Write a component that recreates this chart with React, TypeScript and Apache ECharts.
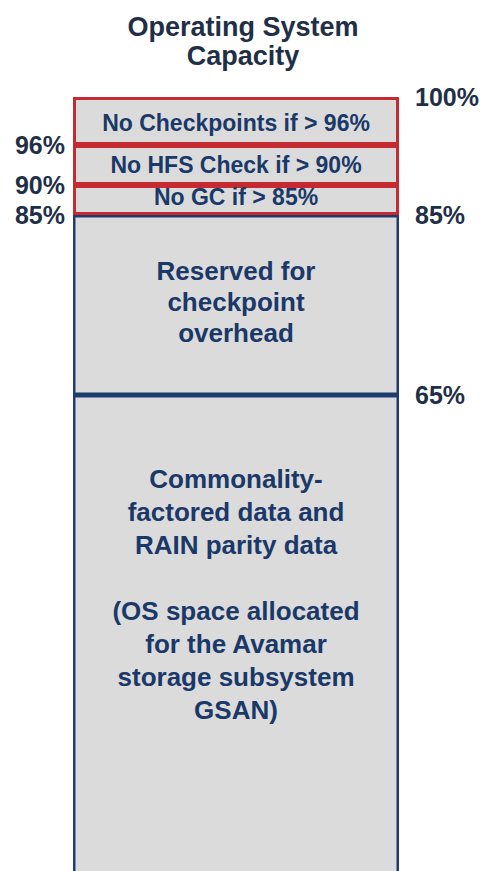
import React, { useEffect, useRef } from "react";
import * as echarts from "echarts";

// ---- data ----
const categories = ["OS capacity"];
const bandLabels = [
  "Commonality-\nfactored data and\nRAIN parity data\n\n(OS space allocated\nfor the Avamar\nstorage subsystem\nGSAN)",
  "Reserved for\ncheckpoint\noverhead",
  "No GC if > 85%",
  "No HFS Check if > 90%",
  "No Checkpoints if > 96%",
];
const bandFromPct = [0, 65, 85, 90, 96];
const bandToPct = [65, 85, 90, 96, 100];
// schematic band heights (the diagram is not drawn to scale)
const bandSchematic = [496, 180, 30, 40, 48];
const leftTickPct = [96, 90, 85];
const rightTickPct = [100, 85, 65];
const titleText = "Operating System\nCapacity";

export default function App() {
  const ref = useRef<HTMLDivElement>(null);
  useEffect(() => {
    if (!ref.current) return;
    const chart = echarts.init(ref.current, undefined, { renderer: "svg" });

    const cum: number[] = [];
    let acc = 0;
    bandSchematic.forEach((h) => {
      acc += h;
      cum.push(acc);
    });
    const pctToUnit = (p: number) => {
      if (p === 0) return 0;
      const i = bandToPct.indexOf(p);
      return i >= 0 ? cum[i] : 0;
    };
    const unitToPct: Record<string, number> = {};
    [0, ...bandToPct].forEach((p) => (unitToPct[String(pctToUnit(p))] = p));
    const total = cum[cum.length - 1];

    const navy = "#1a3868";
    const slate = "#1f2f47";
    const red = "#c62a31";
    const blue = "#1f3c70";
    const fill = "#dbdbdb";
    const font = "'Liberation Sans', Arial, sans-serif";

    const labelStyles = [
      { fontSize: 26, lineHeight: 33, offset: [0, -49] },
      { fontSize: 26, lineHeight: 31, offset: [0, -3] },
      { fontSize: 23, lineHeight: 24, offset: [0, -3] },
      { fontSize: 23, lineHeight: 24, offset: [0, 0] },
      { fontSize: 23, lineHeight: 24, offset: [0, 2] },
    ];

    const series = bandSchematic.map((h, i) => ({
      type: "bar",
      name: `${bandFromPct[i]}-${bandToPct[i]}%`,
      stack: "cap",
      barWidth: "100%",
      data: [h],
      itemStyle: {
        color: fill,
        borderColor: i < 2 ? blue : red,
        borderWidth: i < 2 ? 2.5 : 3,
      },
      label: {
        show: true,
        position: "inside",
        formatter: bandLabels[i],
        color: navy,
        fontFamily: font,
        fontWeight: "bold",
        fontSize: labelStyles[i].fontSize,
        lineHeight: labelStyles[i].lineHeight,
        offset: labelStyles[i].offset,
        align: "center",
      },
      emphasis: { disabled: true },
    }));

    const pctLabel = {
      color: slate,
      fontFamily: font,
      fontWeight: "bold",
      fontSize: 25,
      formatter: (v: number) => `${unitToPct[String(v)]}%`,
    };

    chart.setOption({
      animation: false,
      backgroundColor: "#ffffff",
      title: {
        text: titleText,
        left: 238,
        top: 7,
        textAlign: "center",
        textStyle: {
          color: slate,
          fontFamily: font,
          fontWeight: "bold",
          fontSize: 27,
          lineHeight: 29,
        },
      },
      grid: {
        left: 73,
        right: 88,
        top: 97,
        bottom: -20,
        containLabel: false,
        outerBoundsMode: "none",
      },
      xAxis: {
        type: "category",
        data: categories,
        show: false,
      },
      yAxis: [
        {
          type: "value",
          position: "left",
          min: 0,
          max: total,
          axisLine: { show: false },
          axisTick: { show: false },
          splitLine: { show: false },
          axisLabel: {
            ...pctLabel,
            margin: 8,
            customValues: leftTickPct.map(pctToUnit),
          },
        },
        {
          type: "value",
          position: "right",
          min: 0,
          max: total,
          axisLine: { show: false },
          axisTick: { show: false },
          splitLine: { show: false },
          axisLabel: {
            ...pctLabel,
            margin: 16,
            customValues: rightTickPct.map(pctToUnit),
          },
        },
      ],
      series,
    });
    return () => chart.dispose();
  }, []);
  return (
    <div
      ref={ref}
      style={{ position: "fixed", left: 0, top: 0, width: 487, height: 871, background: "#fff" }}
    />
  );
}
